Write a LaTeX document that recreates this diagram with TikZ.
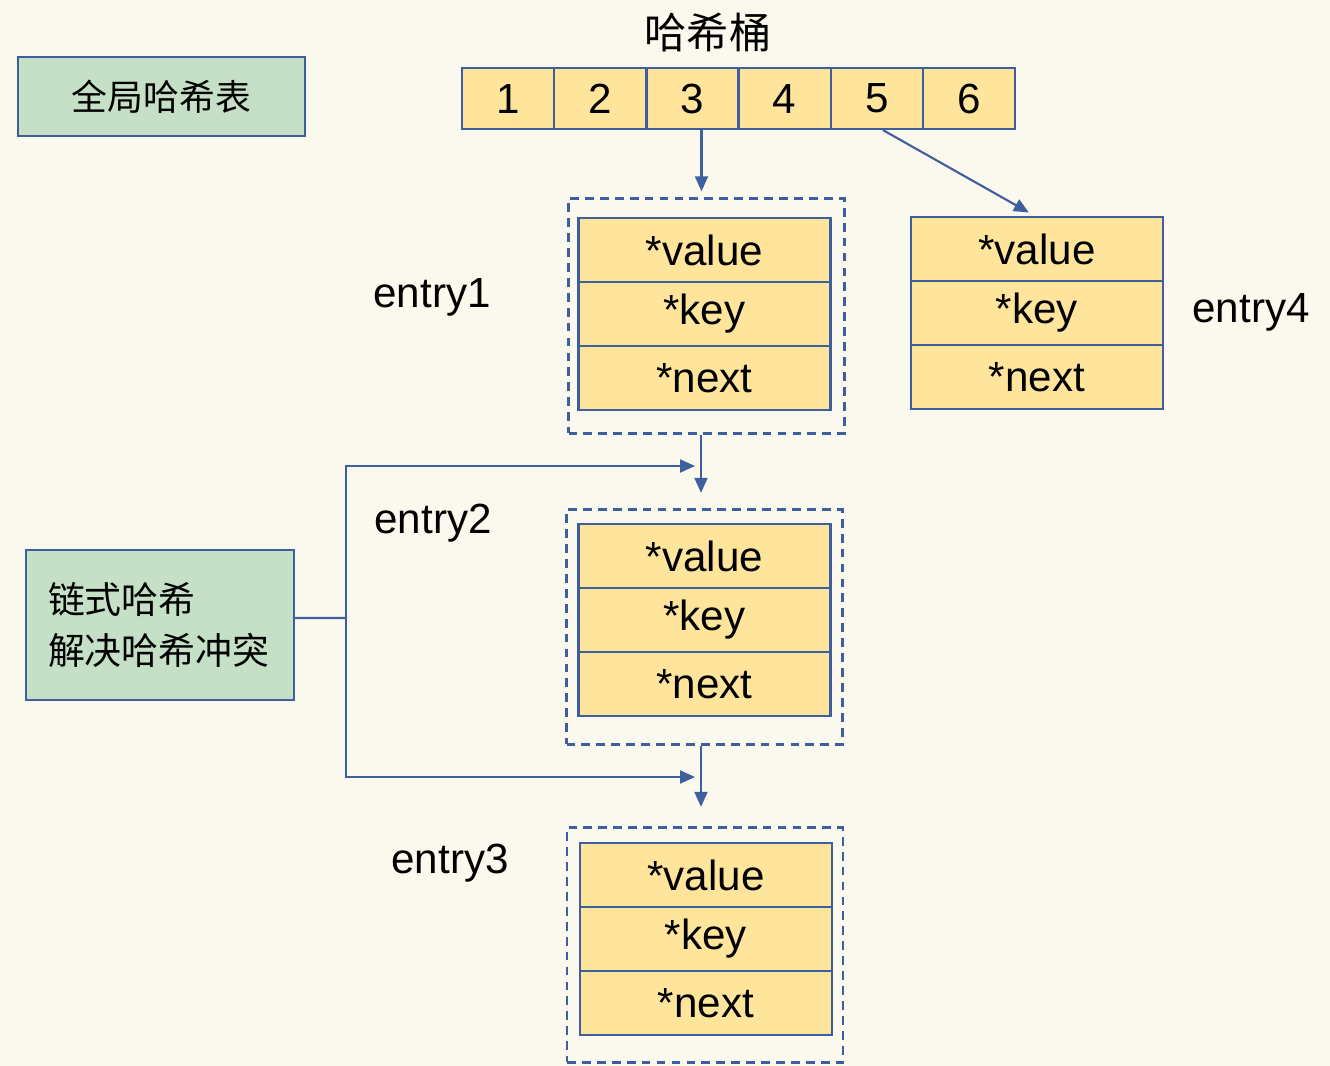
\documentclass[tikz,border=0pt]{standalone}
\usepackage{fontspec}
\setmainfont{Liberation Sans}
\newfontfamily\cjk{Noto Sans CJK SC}
\usetikzlibrary{arrows.meta}
\definecolor{paper}{HTML}{FBF8EE}
\definecolor{slotyellow}{HTML}{FFE59C}
\definecolor{linkblue}{HTML}{3E5F9E}
\definecolor{notegreen}{HTML}{C5E0C6}

\begin{document}
\begin{tikzpicture}[x=0.02cm,y=-0.02cm,
    slot/.style={draw=linkblue,fill=slotyellow,line width=1.2pt,minimum width=1.84cm,
      minimum height=1.22cm,inner sep=0pt,font=\fontsize{24}{28}\selectfont},
    field/.style={draw=linkblue,fill=slotyellow,line width=1.2pt,minimum width=5.04cm,
      minimum height=1.28cm,inner sep=0pt,font=\fontsize{24}{28}\selectfont},
    chain/.style={draw=linkblue,dash pattern=on 5pt off 3.5pt,line width=1.4pt,
      minimum width=5.52cm,minimum height=4.7cm},
    note/.style={draw=linkblue,fill=notegreen,line width=1pt,inner sep=0pt},
    entrytext/.style={font=\fontsize{24}{28}\selectfont},
    link/.style={draw=linkblue,line width=1.2pt,-{Triangle[length=0.3cm,width=0.26cm]}}]
  \fill[paper] (0,0) rectangle (1330,1066);
  \useasboundingbox (0,0) rectangle (1330,1066);

  % notes
  \node[note,minimum width=5.74cm,minimum height=1.58cm,font=\cjk\fontsize{20.4}{24}\selectfont]
    (globalnote) at (161.5,96.5) {全局哈希表};
  \node[note,minimum width=5.36cm,minimum height=3cm,text width=4.48cm,align=left,
    font=\cjk\fontsize{21}{29.5}\selectfont]
    (chainnote) at (160,625) {链式哈希\\解决哈希冲突};

  % buckets
  \node[font=\cjk\fontsize{24}{28}\selectfont] (title) at (708,32) {哈希桶};
  \foreach \i in {1,...,6}
    \node[slot] (b\i) at ({508.1+92.2*(\i-1)},98.5) {\i};

  % entries
  \node[chain] (c1) at (706.5,316) {};
  \node[chain] (c2) at (704.5,627) {};
  \node[chain] (c3) at (705,945) {};
  \foreach \e/\x/\y in {1/704.5/250, 2/704.5/556, 3/706/875, 4/1037/249} {
    \node[field] (e\e v) at (\x,\y) {*value};
    \node[field] (e\e k) at (\x,\y+64) {*key};
    \node[field] (e\e n) at (\x,\y+128) {*next};
  }
  \node[entrytext] (l1) at (432,297) {entry1};
  \node[entrytext] (l2) at (433,523) {entry2};
  \node[entrytext] (l3) at (450,863) {entry3};
  \node[entrytext] (l4) at (1251,312) {entry4};

  % pointers
  \draw[link,shorten >=0.12cm] ([xshift=0.18cm]b3.south) -- ([xshift=0.18cm]b3.south |- c1.north);
  \draw[link,shorten >=0.14cm] ([xshift=0.12cm]b5.south) -- ([xshift=-0.04cm]e4v.north);
  \draw[link,shorten >=0.31cm] ([xshift=-0.11cm]c1.south) -- ([xshift=-0.11cm]c1.south |- c2.north);
  \draw[link,shorten >=0.39cm] ([xshift=-0.07cm]c2.south) -- ([xshift=-0.07cm]c2.south |- c3.north);

  \coordinate (fork) at (346,618);
  \coordinate (in2) at (695,466);
  \coordinate (in3) at (695,777);
  \draw[linkblue,line width=1.2pt] ([yshift=0.14cm]chainnote.east) -- (fork);
  \draw[link] (fork) |- (in2);
  \draw[link] (fork) |- (in3);
\end{tikzpicture}
\end{document}
